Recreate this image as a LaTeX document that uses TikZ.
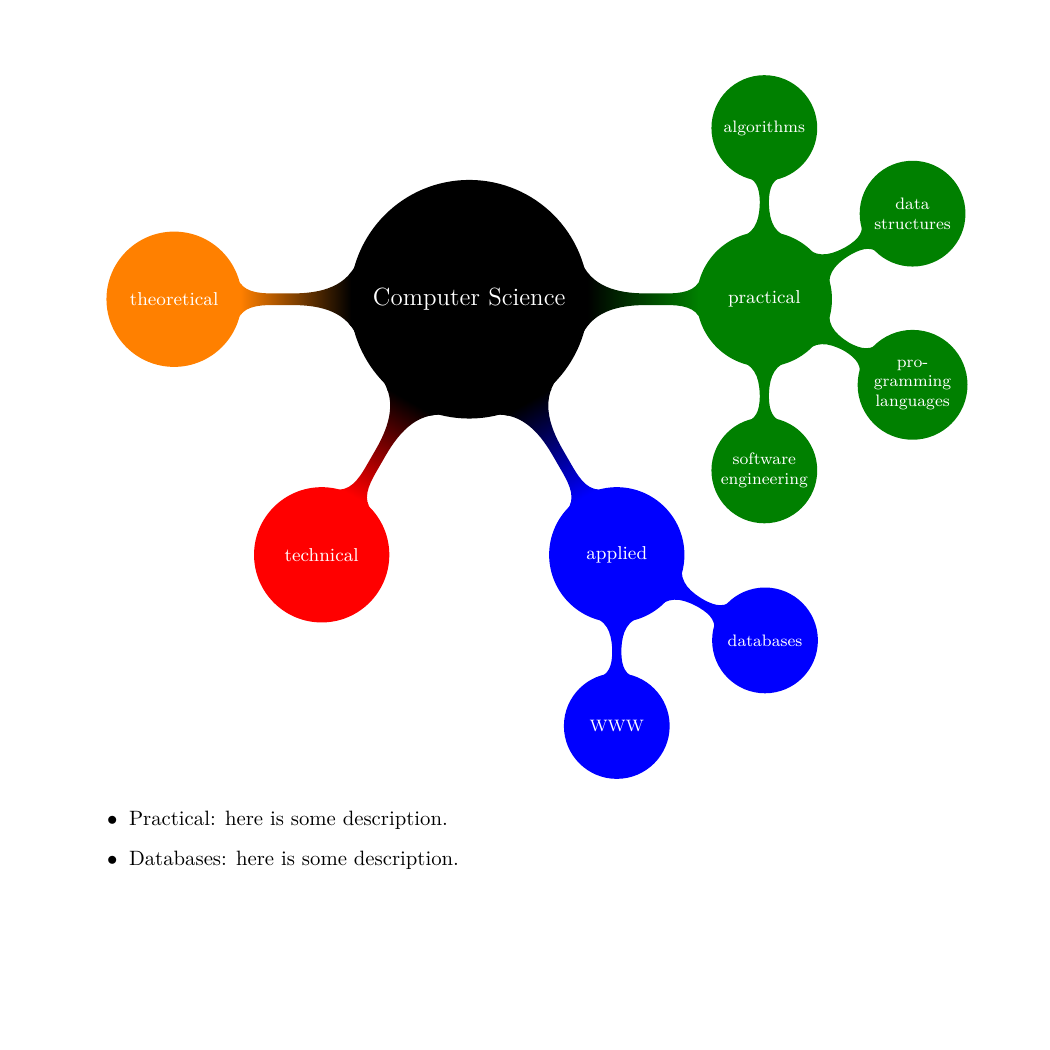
\documentclass[tikz,border=0pt]{standalone}
\usetikzlibrary{mindmap}
\begin{document}
\begin{tikzpicture}
  \useasboundingbox (-7.95,5.07) rectangle (9.84,-12.72);
  \path[mindmap,concept color=black,text=white]
    node[concept] (cs) {Computer Science}
    [clockwise from=0]
    child[concept color=green!50!black] {
      node[concept] (practical) {practical}
      [clockwise from=90]
      child { node[concept] (alg) {algorithms} }
      child { node[concept] (ds) {data structures} }
      child { node[concept] (pl) {pro\-gramming languages} }
      child { node[concept] (se) {software engineer\-ing} }
    }
    child[concept color=blue] {
      node[concept] (applied) {applied}
      [clockwise from=-30]
      child { node[concept] (db) {databases} }
      child { node[concept] (www) {WWW} }
    }
    child[concept color=red] { node[concept] (tech) {technical} }
    child[concept color=orange] { node[concept] (theo) {theoretical} };
  \node[anchor=base west, inner sep=0pt] (item1) at (-6.14,-8.91) {$\bullet$\hskip 0.55em Practical: here is some description.};
  \node[anchor=base west, inner sep=0pt] (item2) at (-6.14,-9.60) {$\bullet$\hskip 0.55em Databases: here is some description.};
\end{tikzpicture}
\end{document}
